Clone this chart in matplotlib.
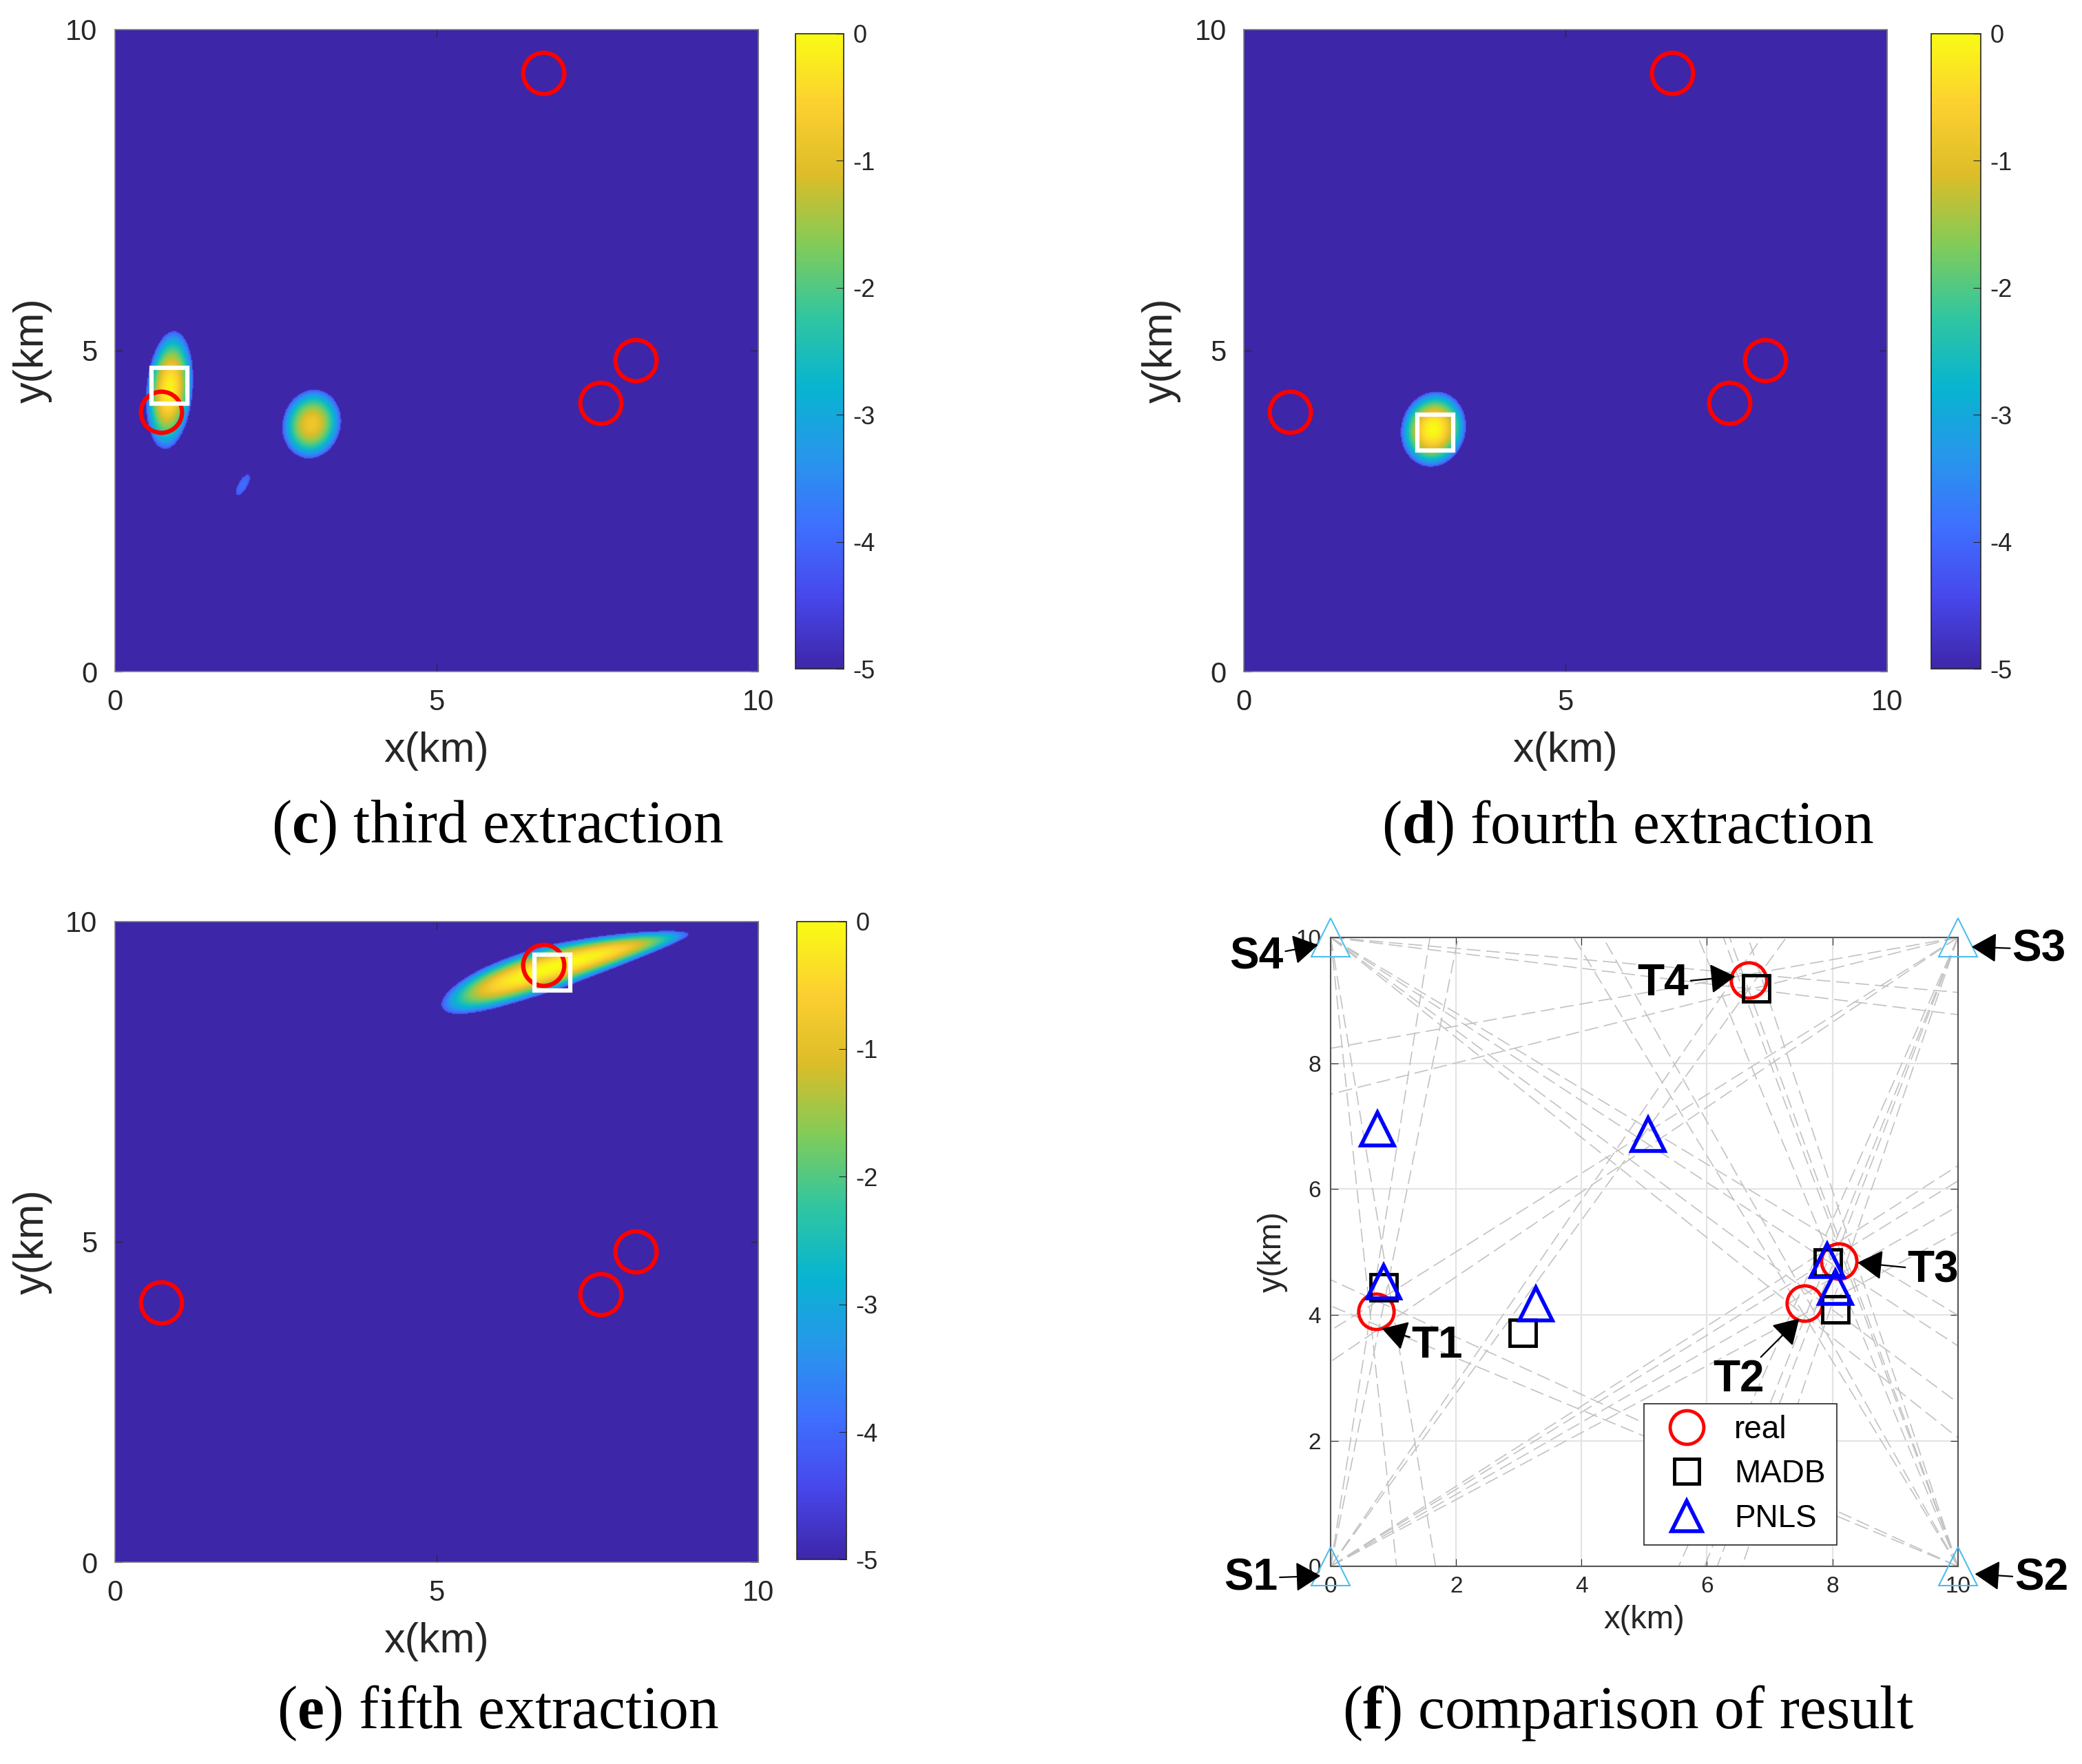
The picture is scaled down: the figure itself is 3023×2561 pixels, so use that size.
import numpy as np
import matplotlib
matplotlib.use('Agg')
import matplotlib.pyplot as plt
from matplotlib.colors import LinearSegmentedColormap

plt.rcParams['font.family'] = 'Liberation Sans'
plt.rcParams['axes.unicode_minus'] = False
plt.rcParams['mathtext.fontset'] = 'custom'
plt.rcParams['mathtext.rm'] = 'Liberation Serif'
plt.rcParams['mathtext.bf'] = 'Liberation Serif:bold'

# ---- data ----
# true emitter positions (km)
real_x = [0.72, 7.55, 8.10, 6.66]
real_y = [4.05, 4.18, 4.85, 9.32]
# MADB estimates
madb_x = [0.84, 3.06, 8.05, 7.93, 6.79]
madb_y = [4.44, 3.71, 4.09, 4.83, 9.19]
# PNLS estimates
pnls_x = [0.75, 5.06, 0.84, 3.27, 7.92, 8.05]
pnls_y = [6.96, 6.87, 4.52, 4.17, 4.86, 4.44]
# sensors
sens_x = [0, 10, 10, 0]
sens_y = [0, 0, 10, 10]
# bearing lines measured at each sensor (deg, ccw from +x)
bearings = [
    [78.5, 81.0, 28.0, 29.8, 31.5, 32.5, 54.0, 55.5],
    [155.5, 157.5, 119.5, 121.5, 110.5, 112.5, 108.5, 110.0],
    [212.0, 214.0, 246.0, 248.0, 249.0, 251.0, 190.0, 194.0],
    [276.0, 279.5, 321.5, 323.5, 327.0, 329.0, 353.0, 355.0],
]

# likelihood peaks of each extraction:
# (cx, cy, half-len back, half-len front, half-width, angle deg,
#  taper, bend, length exponent, peak)
blobs_c = [(0.84, 4.38, 0.92, 0.92, 0.36, 85, 0.0, 0.0, 2, -0.1),
           (3.05, 3.85, 0.54, 0.54, 0.45, 75, 0.0, 0.0, 2, -0.8),
           (1.98, 2.90, 0.18, 0.18, 0.07, 60, 0.0, 0.0, 2, -3.9)]
blobs_d = [(2.94, 3.77, 0.59, 0.59, 0.50, 75, 0.0, 0.0, 2, 0.0)]
blobs_e = [(6.80, 9.18, 1.80, 2.20, 0.36, 16.5, 0.55, 0.10, 3, 0.0)]
est_c = (0.85, 4.45)
est_d = (2.98, 3.72)
est_e = (6.80, 9.20)

captions = ['third extraction', 'fourth extraction', 'fifth extraction',
            'comparison of result']
letters = ['c', 'd', 'e', 'f']

parula_pts = [(0.2422, 0.1504, 0.6603), (0.2803, 0.2782, 0.9221),
              (0.2440, 0.4358, 0.9988), (0.1540, 0.5902, 0.9218),
              (0.0297, 0.7082, 0.8163), (0.1938, 0.7758, 0.6251),
              (0.5044, 0.7993, 0.3480), (0.8634, 0.7406, 0.1596),
              (0.9892, 0.8136, 0.1885), (0.9769, 0.9839, 0.0805)]
parula = LinearSegmentedColormap.from_list('parula', parula_pts, N=256)


def surface(blobs):
    g = np.linspace(0, 10, 600)
    X, Y = np.meshgrid(g, g)
    Z = np.full(X.shape, -5.0)
    for cx, cy, an, ap, b, ang, taper, bend, p, peak in blobs:
        t = np.deg2rad(ang)
        u = (X - cx) * np.cos(t) + (Y - cy) * np.sin(t)
        v = -(X - cx) * np.sin(t) + (Y - cy) * np.cos(t)
        a = np.where(u > 0, ap, an)
        v = v - bend * (1 - (u / a) ** 2)
        w = b * np.clip(1 - taper * np.clip(u, 0, None) / ap, 0.05, None)
        r2 = np.abs(u / a) ** p + (v / w) ** 2
        val = np.where(r2 < 1, peak - (4.2 + peak) * r2, -5.0)
        Z = np.maximum(Z, val)
    return Z


def heat_panel(fig, pos, cpos, blobs, est):
    ax = fig.add_axes(pos)
    im = ax.imshow(surface(blobs), extent=[0, 10, 0, 10], origin='lower',
                   cmap=parula, vmin=-5, vmax=0, aspect='auto',
                   interpolation='bilinear')
    ax.plot(real_x, real_y, 'o', ms=43, mfc='none', mec='red', mew=4.5)
    ax.plot(est[0], est[1], 's', ms=38, mfc='none', mec='white', mew=4.5)
    ax.set_xlim(0, 10)
    ax.set_ylim(0, 10)
    ax.set_xticks([0, 5, 10])
    ax.set_yticks([0, 5, 10])
    ax.tick_params(direction='in', length=8, labelsize=30, colors='#262626',
                   top=True, right=True, pad=18)
    for s in ax.spines.values():
        s.set_color('#7f7f7f')
        s.set_linewidth(1.2)
    ax.set_xlabel('x(km)', fontsize=44, color='#262626', labelpad=16)
    ax.set_ylabel('y(km)', fontsize=44, color='#262626', labelpad=14)
    cax = fig.add_axes(cpos)
    cb = fig.colorbar(im, cax=cax, ticks=[-5, -4, -3, -2, -1, 0])
    cb.ax.tick_params(direction='in', length=8, labelsize=26,
                      colors='#262626', pad=10)
    cb.outline.set_edgecolor('#262626')
    cb.outline.set_linewidth(1.2)
    return ax


fig = plt.figure(figsize=(30.23, 25.61), dpi=100)

heat_panel(fig, [0.0551, 0.6192, 0.309, 0.3641], [0.382, 0.6207, 0.0231, 0.3603],
           blobs_c, est_c)
heat_panel(fig, [0.5974, 0.6192, 0.309, 0.3641], [0.9276, 0.6207, 0.0237, 0.3603],
           blobs_d, est_d)
heat_panel(fig, [0.0551, 0.1143, 0.309, 0.3634], [0.3827, 0.1158, 0.0237, 0.3619],
           blobs_e, est_e)

# ---- comparison panel ----
ax = fig.add_axes([0.6391, 0.112, 0.3013, 0.3566])
ax.set_xlim(0, 10)
ax.set_ylim(0, 10)
ax.grid(True, color='#e3e3e3', lw=1.5)
ax.set_axisbelow(True)
for i in range(4):
    for b in bearings[i]:
        t = np.deg2rad(b)
        ax.plot([sens_x[i], sens_x[i] + 20 * np.cos(t)],
                [sens_y[i], sens_y[i] + 20 * np.sin(t)],
                color='#c2c2c2', lw=1.2, dashes=(12, 5), zorder=1)
ax.plot(sens_x, sens_y, '^', ms=40, mfc='none', mec='#4DBEEE', mew=1.5,
        clip_on=False, zorder=5)
ax.plot(real_x, real_y, 'o', ms=37, mfc='none', mec='red', mew=3.5,
        zorder=4, label='real')
ax.plot(madb_x, madb_y, 's', ms=28, mfc='none', mec='black', mew=3.5,
        zorder=4, label='MADB')
ax.plot(pnls_x, pnls_y, '^', ms=34, mfc='none', mec='blue', mew=4,
        zorder=4, label='PNLS')
ax.set_xticks(range(0, 11, 2))
ax.set_yticks(range(0, 11, 2))
ax.tick_params(direction='in', length=8, labelsize=24, colors='#262626',
               top=True, right=True, pad=10)
for s in ax.spines.values():
    s.set_color('#555555')
    s.set_linewidth(1.5)
ax.set_xlabel('x(km)', fontsize=34, color='#262626', labelpad=8)
ax.set_ylabel('y(km)', fontsize=34, color='#262626', labelpad=8)
leg = ax.legend(loc='lower left', bbox_to_anchor=(0.5, 0.034), fontsize=33,
                fancybox=False, edgecolor='#262626', framealpha=1,
                handletextpad=0.5, borderpad=0.35, labelspacing=0.45,
                borderaxespad=0, markerscale=0.95)
leg.get_frame().set_linewidth(1.2)

# arrow labels: (text, text position, arrow head)
labels = [('S1', (-1.27, -0.19), (-0.16, -0.15)),
          ('S2', (11.33, -0.19), (10.27, -0.12)),
          ('S3', (11.29, 9.81), (10.22, 9.85)),
          ('S4', (-1.18, 9.69), (-0.20, 9.88)),
          ('T1', (1.70, 3.51), (0.82, 3.78)),
          ('T2', (6.50, 2.97), (7.47, 3.94)),
          ('T3', (9.60, 4.71), (8.40, 4.83)),
          ('T4', (5.30, 9.27), (6.45, 9.38))]
for name, tpos, hpos in labels:
    ax.annotate(name, xy=hpos, xytext=tpos, fontsize=46, fontweight='bold',
                ha='center', va='center', annotation_clip=False, zorder=6,
                arrowprops=dict(arrowstyle='-|>,head_length=0.5,head_width=0.3',
                                color='black', lw=1.6,
                                mutation_scale=45, shrinkA=0, shrinkB=0))

# ---- captions ----
cap_pos = [(0.239, 0.5307), (0.782, 0.5307), (0.239, 0.0288), (0.782, 0.0288)]
for (cx, cy), let, cap in zip(cap_pos, letters, captions):
    fig.text(cx, cy, r'($\mathbf{' + let + r'}$) ' + cap, fontsize=63,
             family='Liberation Serif', ha='center', va='center')

fig.savefig('out.png', dpi=100)
